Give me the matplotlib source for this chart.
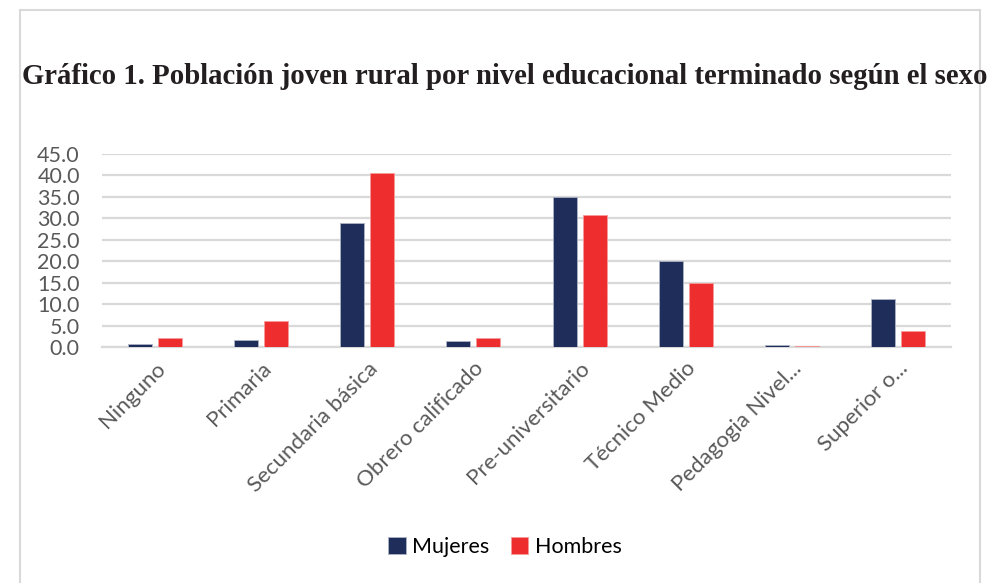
import numpy as np
import matplotlib.pyplot as plt
from matplotlib.patches import Rectangle

# niveles educacionales y porcentajes por sexo
niveles = ['Ninguno', 'Primaria', 'Secundaria básica', 'Obrero calificado',
           'Pre-universitario', 'Técnico Medio', 'Pedagogia Nivel...', 'Superior o...']
mujeres = [0.8, 1.6, 28.9, 1.5, 35.0, 20.2, 0.5, 11.2]
hombres = [2.2, 6.2, 40.5, 2.2, 30.9, 15.0, 0.3, 3.8]
yticks = [0, 5, 10, 15, 20, 25, 30, 35, 40, 45]

c_muj = '#1F2D5A'
c_hom = '#EE2E2E'
gris = '#595959'

plt.rcParams['font.family'] = ['Lato', 'DejaVu Sans']

fig = plt.figure(figsize=(10.06, 5.83), dpi=100)
W, H = 1006, 583

# marco del grafico
fig.patches.append(Rectangle((20 / W, -0.01), 960 / W, 1 - 10 / H + 0.01,
                             transform=fig.transFigure, fill=False,
                             edgecolor='#D9D9D9', lw=1.5))

fig.text(22 / W, 1 - 77 / H,
         'Gráfico 1. Población joven rural por nivel educacional terminado según el sexo',
         family=['Liberation Serif'], weight='bold', fontsize=20.7,
         ha='left', va='center', color='#231F20')

ax = fig.add_axes([102 / W, 1 - 347.3 / H, 849 / W, 193.3 / H])
x = np.arange(len(niveles))
w = 0.226
ax.bar(x - w / 2 - 0.028, mujeres, w, color=c_muj, label='Mujeres',
       edgecolor='#AEB4C6', lw=0.6, zorder=3)
ax.bar(x + w / 2 + 0.028, hombres, w, color=c_hom, label='Hombres',
       edgecolor='#F59A9A', lw=0.6, zorder=3)

ax.set_xlim(-0.5, len(niveles) - 0.5)
ax.set_ylim(0, 45)
ax.set_yticks(yticks)
ax.set_yticklabels(['%.1f' % v for v in yticks], fontsize=15.5, color=gris)
ax.yaxis.grid(True, color='#D9D9D9', lw=1.6, zorder=0)
ax.set_axisbelow(True)
for s in ['top', 'right', 'left']:
    ax.spines[s].set_visible(False)
ax.spines['bottom'].set_color('#D9D9D9')
ax.spines['bottom'].set_linewidth(1.6)
ax.tick_params(axis='both', length=0)
ax.tick_params(axis='y', pad=16)

ax.set_xticks(x)
ax.set_xticklabels(niveles, rotation=45, ha='right', rotation_mode='anchor',
                   fontsize=16, color=gris)
ax.tick_params(axis='x', pad=8)

fig.legend(loc='center', bbox_to_anchor=(505 / W, 1 - 547 / H), ncol=2,
           frameon=False, fontsize=15.5, handlelength=0.8, handleheight=0.8,
           handletextpad=0.3, columnspacing=1.0)

fig.savefig('out.png', dpi=100)
